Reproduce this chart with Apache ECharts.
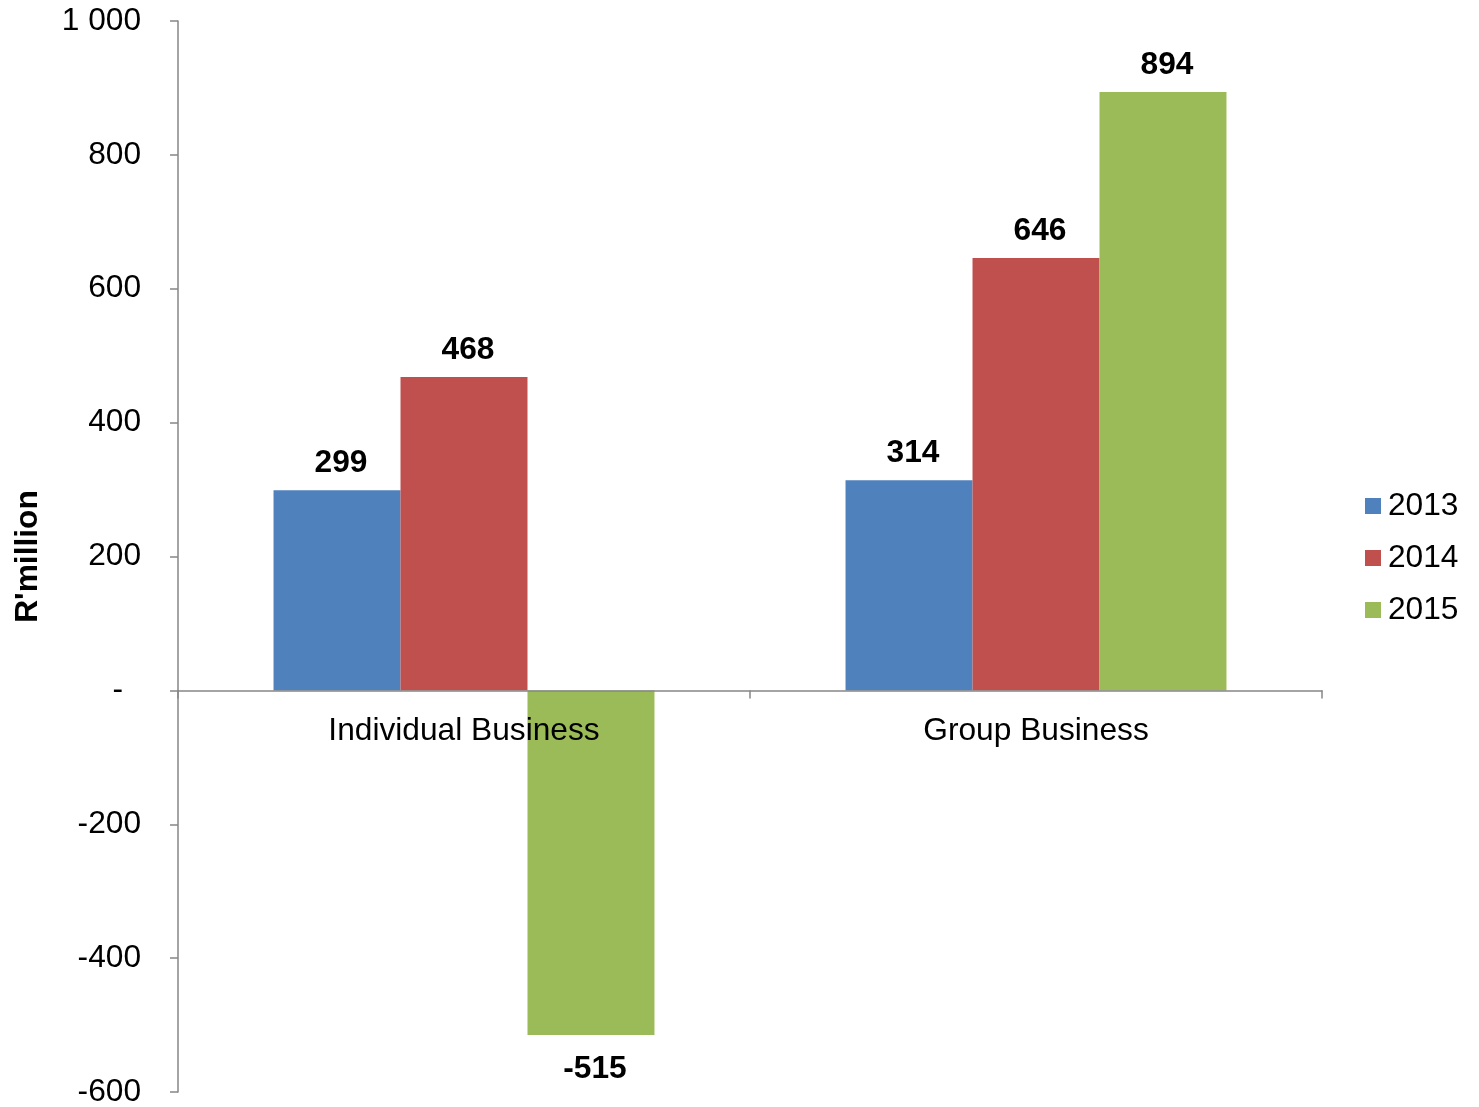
<!DOCTYPE html>
<html>
<head>
<meta charset="utf-8">
<script src="https://cdn.jsdelivr.net/npm/echarts@6/dist/echarts.min.js"></script>
<style>
  html, body { margin: 0; padding: 0; background: #fff; }
  #chart { width: 1479px; height: 1107px; }
</style>
</head>
<body>
<div id="chart"></div>
<script>
// Operating result by business line, R'million
const categories = ['Individual Business', 'Group Business'];
const years = ['2013', '2014', '2015'];
const values2013 = [299, 314];
const values2014 = [468, 646];
const values2015 = [-515, 894];
const yTicks = { min: -600, max: 1000, interval: 200 };

const colors = ['#4F81BD', '#C0504D', '#9BBB59'];
const FONT = '"Liberation Sans", Arial, sans-serif';
const FS = 31.7;
const AXIS_GREY = '#868686';

const GRID = { left: 178, top: 21, width: 1144, height: 1071 };
// category axis sits on the value-axis zero line
const zeroOffset = -(0 - yTicks.min) / (yTicks.max - yTicks.min) * GRID.height;

function fmtTick(v) {
  if (v === 0) return '{z|-}';
  const s = Math.abs(v).toString().replace(/\B(?=(\d{3})+(?!\d))/g, ' ');
  return (v < 0 ? '-' : '') + s;
}

function makeSeries(name, vals, color) {
  return {
    name: name,
    type: 'bar',
    barGap: '0%',
    barCategoryGap: '33.4%',
    itemStyle: { color: color },
    data: vals.map(v => ({
      value: v,
      label: {
        show: true,
        position: v < 0 ? 'bottom' : 'top',
        distance: v < 0 ? 18 : 11,
        offset: [4, 0],
        fontFamily: FONT,
        fontSize: FS,
        fontWeight: 'bold',
        color: '#000'
      }
    }))
  };
}

const chart = echarts.init(document.getElementById('chart'), null, { renderer: 'canvas' });
chart.setOption({
  animation: false,
  color: colors,
  grid: Object.assign({ containLabel: false, outerBoundsMode: 'none' }, GRID),
  legend: {
    orient: 'vertical',
    left: 1365,
    top: 490,
    padding: 0,
    itemWidth: 16,
    itemHeight: 16,
    itemGap: 20,
    icon: 'rect',
    textStyle: { fontFamily: FONT, fontSize: FS, color: '#000', padding: [0, 0, 0, 2] },
    data: years
  },
  xAxis: {
    type: 'category',
    data: categories,
    z: 5,
    position: 'bottom',
    offset: zeroOffset,
    axisLine: { onZero: false, lineStyle: { color: AXIS_GREY, width: 1.5 } },
    axisTick: { show: true, length: 8, lineStyle: { color: AXIS_GREY, width: 1.5 } },
    axisLabel: { fontFamily: FONT, fontSize: FS, color: '#000', margin: 25 },
    splitLine: { show: false }
  },
  yAxis: {
    type: 'value',
    min: yTicks.min,
    max: yTicks.max,
    interval: yTicks.interval,
    name: "R'million",
    nameLocation: 'middle',
    nameGap: 134,
    nameRotate: 90,
    nameTextStyle: { fontFamily: FONT, fontSize: FS, fontWeight: 'bold', color: '#000' },
    axisLine: { show: true, onZero: false, lineStyle: { color: AXIS_GREY, width: 1.5 } },
    axisTick: { show: true, length: 8, lineStyle: { color: AXIS_GREY, width: 1.5 } },
    axisLabel: {
      fontFamily: FONT, fontSize: FS, color: '#000', margin: 37,
      formatter: fmtTick,
      rich: { z: { fontFamily: FONT, fontSize: FS, color: '#000', padding: [0, 18, 0, 0] } }
    },
    splitLine: { show: false }
  },
  series: [
    makeSeries(years[0], values2013, colors[0]),
    makeSeries(years[1], values2014, colors[1]),
    makeSeries(years[2], values2015, colors[2])
  ]
});
</script>
</body>
</html>
